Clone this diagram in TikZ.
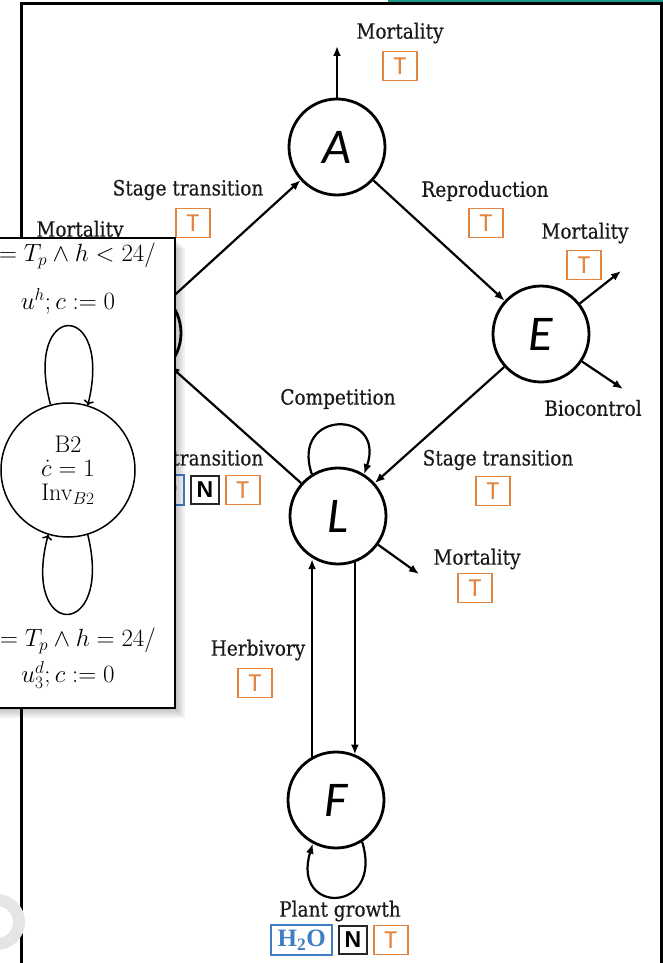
\documentclass[tikz,border=0pt]{standalone}
\usepackage{fontspec}
\newfontfamily\lblfont{DejaVu Serif}[FakeStretch=0.88,FakeBold=0.5]
\newfontfamily\letfont{Carlito}
\newfontfamily\nfont{Liberation Sans}
\newfontfamily\hfont{Liberation Serif}
\usetikzlibrary{arrows.meta,positioning}
\definecolor{tcol}{RGB}{227,133,62}
\definecolor{hcol}{RGB}{62,126,196}
\definecolor{tealbar}{RGB}{24,150,136}

\begin{document}
\begin{tikzpicture}[x=1pt,y=-1pt,
  stage/.style={circle,draw,line width=2.8pt,minimum size=96pt,inner sep=0pt,font=\letfont\itshape\fontsize{50}{50}\selectfont},
  flow/.style={line width=2.2pt,-{Latex[length=10pt,width=8pt]}},
  lbl/.style={inner sep=0pt,text=black!90,font=\lblfont\fontsize{21}{24}\selectfont},
  tbox/.style={draw=tcol,line width=1.8pt,text=tcol,minimum width=34pt,minimum height=29pt,inner sep=0pt,font=\letfont\fontsize{26}{26}\selectfont},
  nbox/.style={draw=black!85,line width=1.8pt,minimum width=28pt,minimum height=28pt,inner sep=0pt,font=\nfont\bfseries\fontsize{23}{23}\selectfont},
  hbox/.style={draw=hcol,line width=1.8pt,text=hcol,minimum width=61pt,minimum height=30pt,inner sep=0pt,font=\hfont\bfseries\fontsize{25}{25}\selectfont},
  mlbl/.style={inner sep=0pt,font=\fontsize{24}{24}\selectfont}]
\useasboundingbox (0,0) rectangle (663,963);
\clip (0,0) rectangle (663,963);
% life-cycle diagram in the framed window
\fill[tealbar] (388,0) rectangle (663,2.5);
\draw[line width=3pt] (21,1000) -- (21,4) -- (661,4) -- (661,1000);
\draw[gray!20,line width=12pt] (-3,922) circle (22);

\node[stage] (A) at (337,147) {A};
\node[stage] (E) at (541,334) {E};
\node[stage] (L) at (338,516) {L};
\node[stage] (F) at (336,800) {F};
\node[stage] (P) at (133,333) {};

\coordinate (mA) at (337,46);
\coordinate (mE) at (621,271);
\coordinate (bE) at (623,389);
\coordinate (mL) at (419,574);

\draw[flow] (P) -- (A);
\draw[flow] (A) -- (E);
\draw[flow] (E) -- (L);
\draw[flow] (L) -- (P);
\draw[flow] (A) -- (mA);
\draw[flow] (E) -- (mE);
\draw[flow] (E) -- (bE);
\draw[flow] (L) -- (mL);
\draw[flow] (F.119) -- (F.119 |- L.241);
\draw[flow] (L.290) -- (L.290 |- F.67);
\draw[flow] (L.122) .. controls +(-22,-65) and +(22,-65) .. (L.58);
\draw[flow] (F.-58) .. controls +(22,72) and +(-22,72) .. (F.-118);

\node[lbl] (tA) at (400,33) {Mortality};
\node[tbox] (tAb) at (400,66) {T};
\node[lbl] (tPA) at (188,190) {Stage transition};
\node[tbox] (tPAb) at (193,223) {T};
\node[lbl] (tAE) at (485,191) {Reproduction};
\node[tbox] (tAEb) at (486,223) {T};
\node[lbl] (tE) at (585,233) {Mortality};
\node[tbox] (tEb) at (584,265) {T};
\node[lbl] (tP) at (80,231) {Mortality};
\node[lbl] (tLL) at (338,399) {Competition};
\node[lbl] (tbE) at (593,408) {Biocontrol};
\node[lbl] (tEL) at (498,460) {Stage transition};
\node[tbox] (tELb) at (493,491) {T};
\node[lbl] (tLP) at (188,460) {Stage transition};
\node[nbox] (tLPn) at (205,490) {N};
\node[hbox,left=5pt of tLPn] (tLPh) {H\textsubscript{2}O};
\node[tbox,right=5pt of tLPn] (tLPt) {T};
\node[lbl] (tL) at (477,559) {Mortality};
\node[tbox] (tLb) at (475,588) {T};
\node[lbl] (tFL) at (258,650) {Herbivory};
\node[tbox] (tFLb) at (255,683) {T};
\node[lbl] (tF) at (340,911) {Plant growth};
\node[nbox] (tFn) at (353,940) {N};
\node[hbox,left=5pt of tFn] (tFh) {H\textsubscript{2}O};
\node[tbox,right=5pt of tFn] (tFt) {T};

% automaton window on top
\foreach \s in {2,4,...,10}
  \fill[black,opacity=0.05] (-10,238+\s) rectangle (175+\s,708+\s);
\draw[line width=2.5pt,fill=white] (-10,238) rectangle (175,708);
\node[circle,draw,line width=1.5pt,minimum size=134pt,inner sep=0pt,align=center,font=\fontsize{24}{24}\selectfont] (B2) at (68,470) {B2\\$\dot c = 1$\\Inv$_{B2}$};
\draw[line width=1.5pt,->] (B2.105) .. controls +(-28,-105) and +(26,-106) .. (B2.73);
\draw[line width=1.5pt,->] (B2.-73) .. controls +(26,106) and +(-28,106) .. (B2.-107);
\node[mlbl,anchor=east] (g1) at (156,256) {$= T_p \wedge h < 24/$};
\node[mlbl] (u1) at (68,301) {$u^h; c := 0$};
\node[mlbl,anchor=east] (g2) at (156,641) {$= T_p \wedge h = 24/$};
\node[mlbl] (u2) at (68,675) {$u_3^d; c := 0$};
\end{tikzpicture}
\end{document}
